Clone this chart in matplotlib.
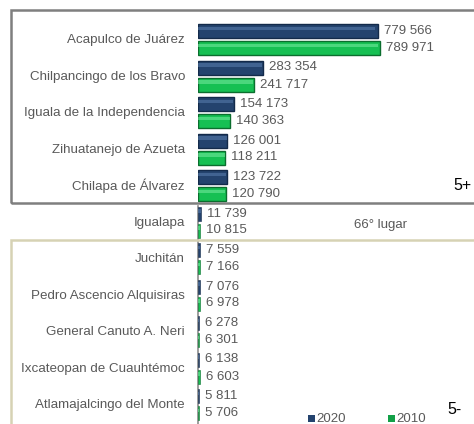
import matplotlib
matplotlib.use("Agg")
import matplotlib.pyplot as plt
from matplotlib.patches import Rectangle
from matplotlib.transforms import offset_copy
import numpy as np

plt.rcParams['font.family'] = ['Liberation Sans', 'DejaVu Sans']

municipios = ["Acapulco de Juárez", "Chilpancingo de los Bravo", "Iguala de la Independencia",
              "Zihuatanejo de Azueta", "Chilapa de Álvarez", "Igualapa", "Juchitán",
              "Pedro Ascencio Alquisiras", "General Canuto A. Neri", "Ixcateopan de Cuauhtémoc",
              "Atlamajalcingo del Monte"]
pob_2020 = [779566, 283354, 154173, 126001, 123722, 11739, 7559, 7076, 6278, 6138, 5811]
pob_2010 = [789971, 241717, 140363, 118211, 120790, 10815, 7166, 6978, 6301, 6603, 5706]
series_labels = ["2020", "2010"]

W, H = 474, 424
fig = plt.figure(figsize=(W/100, H/100), dpi=100)

x0 = 198
ax = fig.add_axes([x0/W, 0, 1 - x0/W, 1])
xmax = (W - x0) / 0.000231
ax.set_xlim(0, xmax)
row0, step = 39.5, 36.5
ax.set_ylim((H - row0)/step, -row0/step)
ax.axis('off')

n = len(municipios)
y = np.arange(n)
off = 8.5/step
hgt = 14/step
blue, blue_edge, blue_hi = "#24436e", "#132a4a", "#5a7fae"
green, green_edge, green_hi = "#16c053", "#0b6e2e", "#6fe89a"

big = np.array(pob_2020) > 50000
lw = np.where(big, 1.0, 0.4)
ax.barh(y - off, pob_2020, height=hgt, color=blue, edgecolor=blue_edge, linewidth=lw, zorder=3)
ax.barh(y + off, pob_2010, height=hgt, color=green, edgecolor=green_edge, linewidth=lw, zorder=3)
ax.barh(y - off - hgt*0.18, np.array(pob_2020)*0.985, height=hgt*0.22, color=blue_hi, alpha=0.55, linewidth=0, zorder=4)
ax.barh(y + off - hgt*0.18, np.array(pob_2010)*0.985, height=hgt*0.22, color=green_hi, alpha=0.6, linewidth=0, zorder=4)

def fmt(v):
    return f"{v:,}".replace(",", " ")

txt = "#595959"
tr = offset_copy(ax.transData, fig=fig, x=6, y=0, units='dots')
for i in range(n):
    ax.text(pob_2020[i], y[i] - off, fmt(pob_2020[i]), transform=tr, ha='left', va='center',
            fontsize=9.5, color=txt, zorder=5)
    ax.text(pob_2010[i], y[i] + off, fmt(pob_2010[i]), transform=tr, ha='left', va='center',
            fontsize=9.5, color=txt, zorder=5)

trl = offset_copy(ax.transData, fig=fig, x=-13, y=0, units='dots')
for i in range(n):
    ax.text(0, y[i] + 0.02, municipios[i], transform=trl, ha='right', va='center',
            fontsize=9.6, color=txt)

ax.plot([0, 0], [4.55, (H - row0)/step], color="#8c8c8c", lw=1.2, zorder=2, clip_on=False)

def px_rect(x, y0, w, h, **kw):
    fig.add_artist(Rectangle((x/W, 1 - (y0 + h)/H), w/W, h/H, transform=fig.transFigure,
                             fill=False, **kw))
px_rect(11, 10, 480, 193, edgecolor="#7f7f7f", lw=1.8, zorder=1)
px_rect(11, 240, 480, 200, edgecolor="#d6d2b4", lw=1.8, zorder=1)

fig.text(462/W, 1 - 185/H, "5+", ha='center', va='center', fontsize=11.5, color='black')
fig.text(455/W, 1 - 410/H, "5-", ha='center', va='center', fontsize=11.5, color='black')
fig.text(381/W, 1 - 225/H, "66° lugar", ha='center', va='center', fontsize=9.5, color=txt)

fig.patches.append(Rectangle((308/W, 1 - 421.5/H), 7/W, 7/H, transform=fig.transFigure,
                             facecolor=blue, edgecolor='none'))
fig.text(316/W, 1 - 418.5/H, series_labels[0], ha='left', va='center', fontsize=9.5, color=txt)
fig.patches.append(Rectangle((388/W, 1 - 421.5/H), 7/W, 7/H, transform=fig.transFigure,
                             facecolor="#12a047", edgecolor='none'))
fig.text(396/W, 1 - 418.5/H, series_labels[1], ha='left', va='center', fontsize=9.5, color=txt)

fig.savefig("out.png", dpi=100, facecolor='white')
